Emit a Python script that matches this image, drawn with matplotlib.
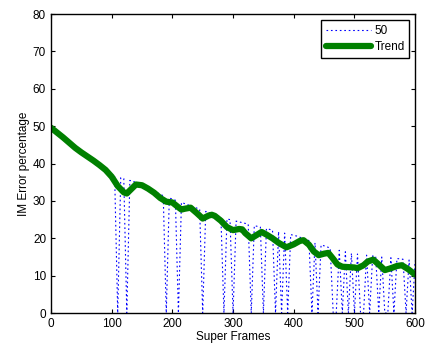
import numpy as np
import matplotlib
matplotlib.use('Agg')
import matplotlib.pyplot as plt

plt.rcParams['font.family'] = ['Liberation Sans', 'DejaVu Sans']

# serie "50": amostras a cada 5 super frames (0 = queda do erro)
frames_50 = np.arange(0, 601, 5)
erro_50 = [
    49.5, 48.8, 48.0, 47.3, 46.6, 45.9, 45.2, 44.5, 43.8, 43.2,
    42.6, 42.0, 41.4, 40.8, 40.2, 39.6, 39.0, 38.4, 37.8, 37.2,
    36.6, 36.5, 0, 36.2, 36.0, 0, 35.5, 35.2, 35.0, 34.6,
    34.2, 33.8, 33.4, 33.0, 32.6, 32.2, 31.8, 31.4, 0, 30.8,
    30.5, 30.2, 0, 29.6, 29.3, 29.0, 28.7, 28.4, 28.1, 27.8,
    0, 27.2, 26.9, 26.6, 26.3, 26.0, 25.7, 0, 25.2, 25.0,
    0, 24.6, 24.4, 24.2, 24.0, 23.8, 0, 23.4, 23.2, 23.0,
    0, 22.6, 22.4, 22.2, 0, 21.8, 0, 21.4, 0, 21.0,
    20.8, 20.6, 20.3, 20.0, 19.7, 19.4, 0, 18.8, 0, 18.2,
    18.0, 17.7, 17.4, 0, 0, 16.8, 0, 16.4, 0, 16.0,
    0, 15.8, 0, 0, 15.5, 0, 15.3, 15.2, 0, 15.0,
    0, 0, 14.8, 0, 14.6, 14.5, 14.4, 0, 14.2, 0,
    14.0,
]

# curva de tendencia
frames_trend = [0, 10, 20, 30, 40, 50, 60, 70, 80, 90, 100, 110, 120, 125, 130,
                140, 150, 160, 170, 180, 190, 200, 210, 215, 220, 230, 240, 250,
                260, 265, 270, 280, 290, 300, 310, 315, 320, 330, 340, 347, 355,
                365, 375, 388, 400, 410, 416, 425, 433, 441, 450, 457, 465, 472,
                480, 490, 500, 505, 515, 522, 531, 540, 550, 560, 570, 578, 588, 600]
erro_trend = [49.6, 48.3, 47.0, 45.6, 44.2, 43.0, 41.9, 40.8, 39.6, 38.3, 36.5,
              34.0, 32.3, 32.0, 32.8, 34.4, 34.2, 33.3, 32.2, 30.8, 29.8, 29.6,
              28.3, 27.7, 27.9, 28.2, 26.8, 25.3, 26.1, 26.3, 26.0, 24.7, 23.0,
              22.2, 22.5, 22.4, 21.4, 20.0, 21.0, 21.7, 21.0, 20.0, 18.8, 17.6,
              18.4, 19.3, 19.5, 18.3, 16.5, 15.5, 15.9, 16.1, 14.5, 13.0, 12.4,
              12.3, 12.2, 12.0, 12.8, 13.8, 14.3, 13.0, 11.5, 12.0, 12.6, 12.8,
              11.8, 10.3]

fig = plt.figure(figsize=(4.28, 3.51), dpi=100)
ax = fig.add_axes([0.119, 0.108, 0.851, 0.852])

ax.plot(frames_50, erro_50, linestyle=(0, (1.5, 2.5)), color='b',
        linewidth=0.8, label='50')
ax.plot(frames_trend, erro_trend, '-', color=(0, 0.5, 0), linewidth=4.5,
        solid_capstyle='round', solid_joinstyle='round', label='Trend')

ax.set_xlim(0, 600)
ax.set_ylim(0, 80)
ax.set_xticks(np.arange(0, 601, 100))
ax.set_yticks(np.arange(0, 81, 10))
ax.tick_params(direction='in', top=True, right=True, labelsize=8.5, length=3)
for s in ax.spines.values():
    s.set_linewidth(1.0)
ax.set_xlabel('Super Frames', fontsize=8.5, labelpad=1)
ax.set_ylabel('IM Error percentage', fontsize=8.5, labelpad=2)

leg = ax.legend(loc='upper right', fontsize=8.5, fancybox=False, framealpha=1,
                edgecolor='black', handlelength=3.8, borderaxespad=0.5,
                borderpad=0.4, labelspacing=0.4, handletextpad=0.3)
leg.get_frame().set_linewidth(1.0)

fig.savefig('out.png', dpi=100)
